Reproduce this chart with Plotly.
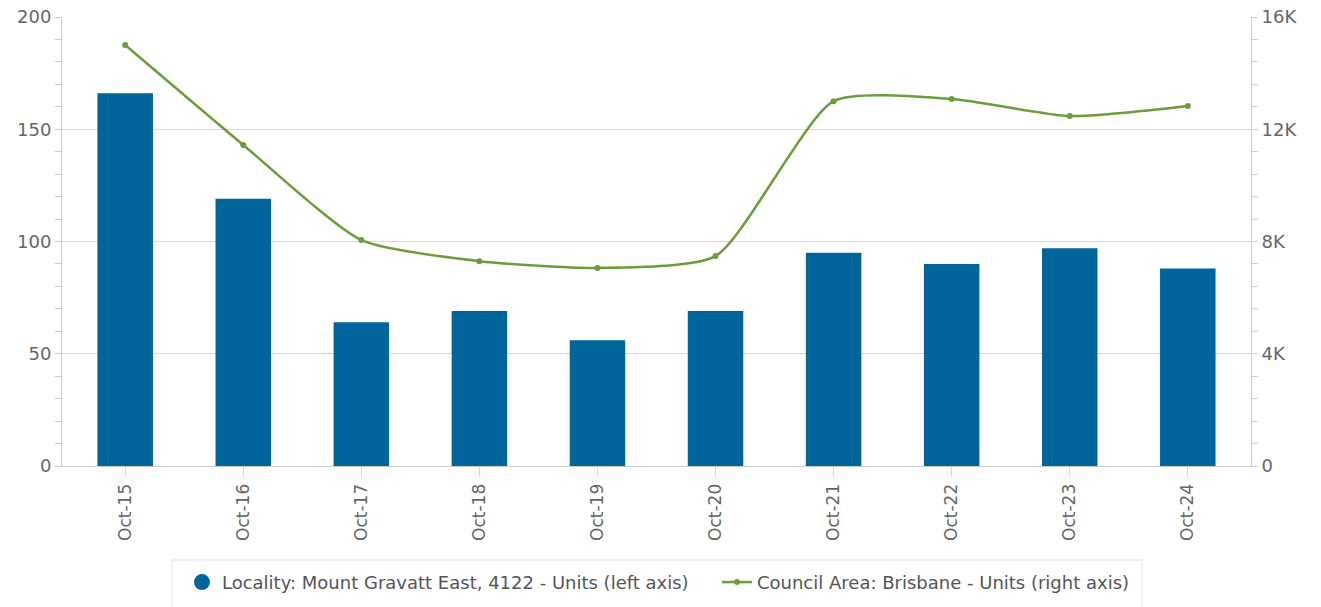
import plotly.graph_objects as go

categories = ["Oct-15", "Oct-16", "Oct-17", "Oct-18", "Oct-19", "Oct-20", "Oct-21", "Oct-22", "Oct-23", "Oct-24"]
locality_units = [166, 119, 64, 69, 56, 69, 95, 90, 97, 88]
council_units = [15000, 11440, 8050, 7300, 7060, 7480, 13000, 13080, 12470, 12830]
right_tickvals = [0, 4000, 8000, 12000, 16000]
right_ticktext = ["0", "4K", "8K", "12K", "16K"]

bar_color = "#00659b"
line_color = "#6a9e3a"
font_family = "DejaVu Sans, sans-serif"
tick_color = "#666666"

fig = go.Figure()
fig.add_trace(go.Bar(
    x=categories, y=locality_units, marker=dict(color=bar_color, line=dict(width=0)),
    showlegend=False, yaxis="y", hoverinfo="x+y",
))
fig.add_trace(go.Scatter(
    x=[None], y=[None], mode="markers", marker=dict(color=bar_color, size=16, symbol="circle"),
    name="Locality: Mount Gravatt East, 4122 - Units (left axis)", yaxis="y",
))
fig.add_trace(go.Scatter(
    x=categories, y=council_units, mode="lines+markers",
    line=dict(color=line_color, width=2.5, shape="spline", smoothing=0.6),
    marker=dict(color=line_color, size=6),
    name="Council Area: Brisbane - Units (right axis)", yaxis="y2",
))

# legend frame (drawn as a paper shape so its width can match the reference)
fig.add_shape(
    type="rect", xref="paper", yref="paper",
    x0=0.0925, x1=0.9083, y0=-0.2094, y1=-0.345,
    line=dict(color="#e3e3e3", width=1), fillcolor="rgba(0,0,0,0)", layer="below",
)

fig.update_layout(
    width=1321, height=607,
    margin=dict(l=62, r=70, t=17, b=141, autoexpand=False),
    paper_bgcolor="white", plot_bgcolor="white",
    font=dict(family=font_family, size=16, color=tick_color),
    bargap=0.53,
    xaxis=dict(
        type="category", tickangle=-90, showgrid=False,
        showline=True, linecolor="#cccccc", linewidth=1,
        ticks="outside", ticklen=10, tickcolor="#ccd6eb",
        tickfont=dict(size=17, color=tick_color),
    ),
    yaxis=dict(
        range=[0, 200], tickvals=[0, 50, 100, 150, 200],
        showgrid=True, gridcolor="#d6d6d6", gridwidth=1,
        showline=True, linecolor="#cccccc", linewidth=1,
        ticks="outside", ticklen=6, tickcolor="#cccccc",
        minor=dict(dtick=10, ticks="outside", ticklen=6, tickcolor="#cccccc", showgrid=False),
        tickfont=dict(size=18, color=tick_color), zeroline=False,
        ticklabeloverflow="allow",
    ),
    yaxis2=dict(
        range=[0, 16000], tickvals=right_tickvals, ticktext=right_ticktext,
        overlaying="y", side="right", showgrid=False,
        showline=True, linecolor="#cccccc", linewidth=1,
        ticks="outside", ticklen=6, tickcolor="#cccccc",
        minor=dict(dtick=800, ticks="outside", ticklen=6, tickcolor="#cccccc", showgrid=False),
        tickfont=dict(size=18, color=tick_color), zeroline=False,
        ticklabeloverflow="allow",
    ),
    legend=dict(
        orientation="h", x=0.1009, xanchor="left", y=-0.218, yanchor="top",
        borderwidth=0, bgcolor="rgba(0,0,0,0)",
        font=dict(size=18, color="#555555"),
        entrywidth=490, entrywidthmode="pixels",
    ),
)

fig.write_html(
    "out.html",
    config={"displayModeBar": False},
    post_script="document.body.style.margin='0px';document.body.style.overflow='hidden';",
)
